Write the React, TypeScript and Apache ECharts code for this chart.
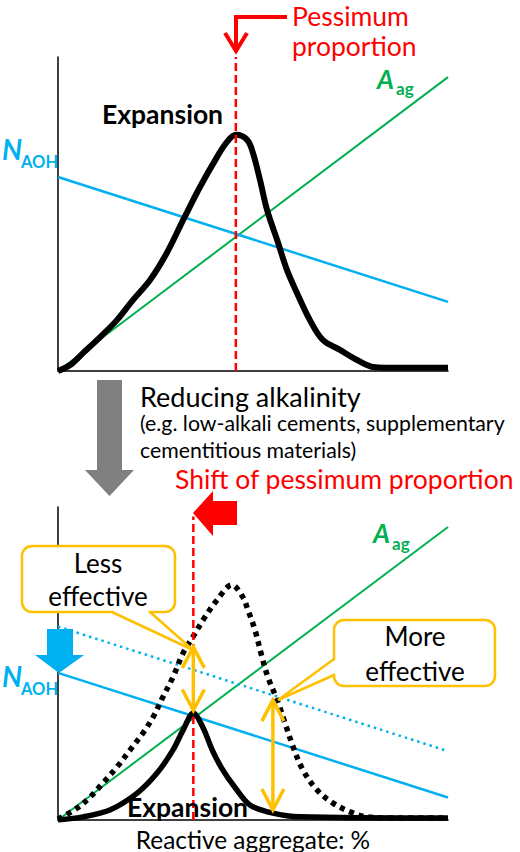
import React, { useEffect, useRef } from "react";
import * as echarts from "echarts";

// straight lines, given at x = 0 and x = 100
const lineX = [0, 100];
const aggregateLine = [0, 93.6];
const alkaliBefore = [61.8, 22];
const alkaliAfter = [47, 7.2];

// expansion curves as [x, y]
const expansionBefore = [
  [0, 0], [3.1, 1.9], [6.4, 5.7], [10.8, 10.8], [15.1, 16.2], [19.2, 22.6],
  [23.6, 29], [27.9, 37.6], [32.1, 48.1], [36.4, 58.6], [40.8, 68.2], [43.3, 72.9],
  [45.6, 75.2], [48.5, 73.6], [50, 69.4], [51.8, 60.8], [53.6, 51.3], [56.2, 41.7],
  [58.7, 32.2], [61.3, 24.8], [64.6, 16.2], [67.9, 9.9], [72.3, 6.7], [76.7, 3.5],
  [80.8, 1.3], [87.7, 1], [100, 1],
];
const expansionDotted = [
  [0, 0.3], [4.9, 3.8], [8.2, 7.3], [11.5, 11.8], [15.1, 16.9], [18.5, 22.4],
  [21.8, 27.8], [24.4, 32.9], [26.9, 39.3], [29.5, 45.7], [32.1, 53.4], [34.6, 58.5],
  [37.2, 63.9], [40.8, 70.3], [44.6, 75.1], [47.4, 71.2], [48.7, 67.1], [50.5, 60.7],
  [52.3, 52.1], [53.8, 45.7], [56.2, 38.3], [58.2, 31], [60.3, 23.3], [62.8, 16],
  [66.4, 9.6], [70.5, 5.4], [74.9, 2.6], [79.2, 1], [87.7, 0.6], [100, 0.6],
];
const expansionAfter = [
  [0, 0], [6.4, 1], [13.3, 3.2], [20.3, 8.6], [25.4, 15], [29.5, 22.4],
  [32.1, 28.8], [34.7, 34.2], [37.2, 29.5], [39.5, 22.5], [42, 16.5], [45.2, 10.7],
  [49.2, 4.8], [55.1, 2.2], [62, 1], [100, 0.6],
];

const pessimumX = 45.6;
const shiftedPessimumX = 34.7;

// orange double arrows: x, top, bottom
const effectX = [34.7, 55.1];
const effectTop = [55.3, 38.3];
const effectBottom = [35, 3.2];

const GREEN = "#00B050";
const BLUE = "#00B0F0";
const RED = "#FF0000";
const ORANGE = "#FFC000";
const GRAY = "#808080";
const FONT = "Lato, 'Noto Sans', sans-serif";

const pairs = (ys: number[]) => lineX.map((x, i) => [x, ys[i]]);

const txt = (
  text: string,
  x: number,
  y: number,
  size: number,
  fill: string,
  opts: { weight?: string; italic?: boolean; align?: string } = {}
) => ({
  type: "text",
  x,
  y,
  z: 120,
  style: {
    text,
    fill,
    fontSize: size,
    fontFamily: FONT,
    fontWeight: opts.weight || "normal",
    fontStyle: opts.italic ? "italic" : "normal",
    align: opts.align || "left",
    verticalAlign: "middle",
  },
});

const callout = (
  box: number[],
  base1: number[],
  tip: number[],
  base2: number[],
  cover: number[][]
) => [
  {
    type: "rect",
    z: 100,
    shape: { x: box[0], y: box[1], width: box[2], height: box[3], r: 10 },
    style: { fill: "#fff", stroke: ORANGE, lineWidth: 2.5 },
  },
  {
    type: "polygon",
    z: 101,
    shape: { points: cover },
    style: { fill: "#fff" },
  },
  {
    type: "polyline",
    z: 102,
    shape: { points: [base1, tip, base2] },
    style: { stroke: ORANGE, lineWidth: 2.5, fill: null },
  },
];

const axisCommon = {
  type: "value",
  min: 0,
  max: 100,
  axisLine: { show: true, onZero: false, lineStyle: { color: "#000", width: 1.5 } },
  axisTick: { show: false },
  axisLabel: { show: false },
  splitLine: { show: false },
};

const App: React.FC = () => {
  const chartRef = useRef<HTMLDivElement>(null);

  useEffect(() => {
    document.body.style.margin = "0";
    if (!chartRef.current) return;
    const chart = echarts.init(chartRef.current, null, { renderer: "svg" });

    const plain = (
      name: string,
      data: number[][],
      idx: number,
      color: string,
      width: number,
      type: any = "solid",
      smooth: any = false,
      z = 2
    ) => ({
      name,
      type: "line",
      xAxisIndex: idx,
      yAxisIndex: idx,
      data,
      symbol: "none",
      smooth,
      z,
      lineStyle: { color, width, type, cap: "butt" },
    });

    const option = {
      animation: false,
      grid: [
        { left: 58, top: 57, width: 390, height: 314 },
        { left: 58, top: 507, width: 390, height: 313 },
      ],
      xAxis: [
        { ...axisCommon, gridIndex: 0 },
        {
          ...axisCommon,
          gridIndex: 1,
          name: "Reactive aggregate: %",
          nameLocation: "middle",
          nameGap: 19,
          nameTextStyle: {
            color: "#000",
            fontSize: 24.4,
            fontFamily: FONT,
            verticalAlign: "middle",
          },
        },
      ],
      yAxis: [
        { ...axisCommon, gridIndex: 0 },
        { ...axisCommon, gridIndex: 1 },
      ],
      series: [
        plain("Aag", pairs(aggregateLine), 0, GREEN, 2),
        plain("NAOH", pairs(alkaliBefore), 0, BLUE, 2.5),
        plain("Expansion", expansionBefore, 0, "#000", 6, "solid", 0.35, 3),
        plain("Pessimum", [[pessimumX, 0], [pessimumX, 100]], 0, RED, 2.5, [8, 4], false, 4),

        plain("Aag 2", pairs(aggregateLine), 1, GREEN, 2),
        plain("NAOH before", pairs(alkaliBefore), 1, BLUE, 2.5, [2.5, 4]),
        plain("NAOH after", pairs(alkaliAfter), 1, BLUE, 2.5),
        plain("Expansion before", expansionDotted, 1, "#000", 5.5, [5, 5], 0.35, 3),
        plain(
          "Shifted pessimum",
          [[shiftedPessimumX, 0], [shiftedPessimumX, 97]],
          1,
          RED,
          2.5,
          [8, 4],
          false,
          3
        ),
        plain("Expansion after", expansionAfter, 1, "#000", 5.5, "solid", 0.3, 4),
        {
          name: "Effect",
          type: "custom",
          xAxisIndex: 1,
          yAxisIndex: 1,
          z: 6,
          data: effectX.map((x, i) => [x, effectTop[i], effectBottom[i]]),
          renderItem: (_params: any, api: any) => {
            const top = api.coord([api.value(0), api.value(1)]);
            const bot = api.coord([api.value(0), api.value(2)]);
            const w = 11;
            const h = 21;
            const style = { stroke: ORANGE, lineWidth: 3.5, fill: null };
            return {
              type: "group",
              children: [
                { type: "line", shape: { x1: top[0], y1: top[1], x2: bot[0], y2: bot[1] }, style },
                {
                  type: "polyline",
                  shape: { points: [[top[0] - w, top[1] + h], top, [top[0] + w, top[1] + h]] },
                  style,
                },
                {
                  type: "polyline",
                  shape: { points: [[bot[0] - w, bot[1] - h], bot, [bot[0] + w, bot[1] - h]] },
                  style,
                },
              ],
            };
          },
        },
      ],
      graphic: [
        // pessimum pointer
        {
          type: "polyline",
          z: 110,
          shape: { points: [[287, 17], [236, 17], [236, 50]] },
          style: { stroke: RED, lineWidth: 4, fill: null },
        },
        {
          type: "polyline",
          z: 110,
          shape: { points: [[225, 33], [236, 51], [247, 33]] },
          style: { stroke: RED, lineWidth: 4, fill: null },
        },
        txt("Pessimum", 292, 15.5, 26.5, RED),
        txt("proportion", 292, 45.5, 26.5, RED),
        txt("Expansion", 102, 113.5, 26.5, "#000", { weight: "bold" }),
        txt("N", 2, 148.8, 28, BLUE, { weight: "bold", italic: true }),
        txt("AOH", 21, 162.4, 16.5, BLUE, { weight: "bold" }),
        txt("A", 377, 79.4, 26, GREEN, { weight: "bold", italic: true }),
        txt("ag", 396, 88.4, 17, GREEN, { weight: "bold" }),

        // middle
        {
          type: "polygon",
          z: 110,
          shape: {
            points: [[97, 380], [122, 380], [122, 470], [134, 470], [109.5, 496], [85, 470], [97, 470]],
          },
          style: { fill: GRAY },
        },
        txt("Reducing alkalinity", 140, 396, 27, "#000"),
        txt("(e.g. low-alkali cements, supplementary", 140, 423.2, 21.3, "#000"),
        txt("cementitious materials)", 140, 450.2, 21.3, "#000"),
        txt("Shift of pessimum proportion", 175, 479, 26.5, RED),
        {
          type: "polygon",
          z: 110,
          shape: {
            points: [[193, 513], [213, 491], [213, 501], [237, 501], [237, 525], [213, 525], [213, 536]],
          },
          style: { fill: RED },
        },

        // bottom
        {
          type: "polygon",
          z: 110,
          shape: {
            points: [[47, 629], [73, 629], [73, 655], [84, 655], [59, 673], [35, 655], [47, 655]],
          },
          style: { fill: BLUE },
        },
        txt("N", 2, 675.8, 28, BLUE, { weight: "bold", italic: true }),
        txt("AOH", 21, 689.4, 16.5, BLUE, { weight: "bold" }),
        txt("A", 373, 533.4, 26, GREEN, { weight: "bold", italic: true }),
        txt("ag", 392, 543.4, 17, GREEN, { weight: "bold" }),
        txt("Expansion", 127, 806.5, 26.5, "#000", { weight: "bold" }),

        ...callout(
          [22, 546, 153, 66],
          [112, 612],
          [193, 650],
          [150, 612],
          [[113.5, 606], [113.5, 613], [193, 650], [148.5, 613], [148.5, 606]]
        ),
        txt("Less", 98, 563.4, 26, "#000", { align: "center" }),
        txt("effective", 98, 596.4, 26, "#000", { align: "center" }),

        ...callout(
          [334, 620, 161, 66],
          [334, 659],
          [278, 700],
          [334, 675],
          [[341, 660.5], [333, 660.5], [278, 700], [333, 673.5], [341, 673.5]]
        ),
        txt("More", 415, 636.4, 26, "#000", { align: "center" }),
        txt("effective", 415, 671.4, 26, "#000", { align: "center" }),
      ],
    };

    chart.setOption(option as any);

    return () => {
      chart.dispose();
    };
  }, []);

  return <div ref={chartRef} style={{ width: "520px", height: "852px" }} />;
};

export default App;
